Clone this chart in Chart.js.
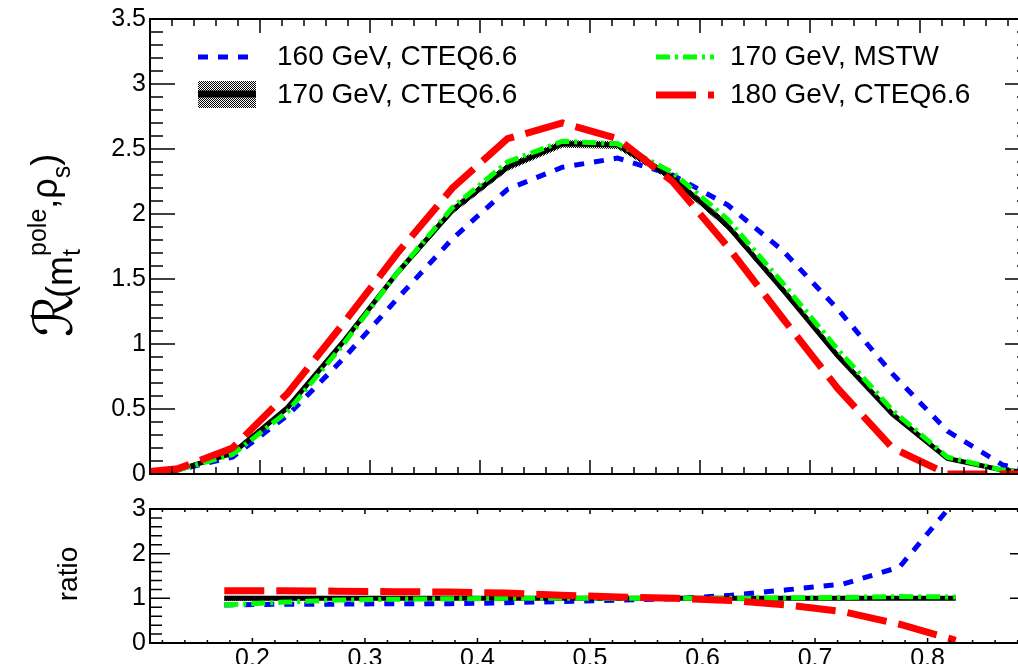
<!DOCTYPE html>
<html>
<head>
<meta charset="utf-8">
<script src="https://cdn.jsdelivr.net/npm/chart.js"></script>
<style>
    html, body { margin: 0; padding: 0; background: #fff; overflow: hidden; width: 1018px; height: 664px; }
    #top { position: absolute; left: 0; top: 0; }
    #bot { position: absolute; left: 0; top: 490px; }
</style>
</head>
<body>
<canvas id="top" width="1040" height="500"></canvas>
<canvas id="bot" width="1040" height="190"></canvas>
<script>
// upper panel: bin centres and R values
var xTop = [0.1, 0.125, 0.175, 0.225, 0.275, 0.325, 0.375, 0.425, 0.475, 0.525, 0.575, 0.625, 0.675, 0.725, 0.775, 0.825, 0.875, 0.9];
var r160 = [0.02, 0.03, 0.13, 0.45, 0.88, 1.35, 1.81, 2.19, 2.36, 2.43, 2.30, 2.07, 1.72, 1.27, 0.77, 0.33, 0.07, 0.03];
var r170 = [0.02, 0.03, 0.16, 0.51, 1.01, 1.55, 2.03, 2.36, 2.54, 2.53, 2.28, 1.91, 1.42, 0.91, 0.46, 0.12, 0.03, 0.01];
var r170err = [0.005, 0.005, 0.01, 0.015, 0.02, 0.025, 0.03, 0.03, 0.03, 0.03, 0.03, 0.03, 0.025, 0.02, 0.015, 0.01, 0.005, 0.005];
var r170mstw = [0.02, 0.03, 0.15, 0.48, 0.99, 1.55, 2.05, 2.40, 2.56, 2.54, 2.32, 1.96, 1.47, 0.96, 0.49, 0.13, 0.03, 0.01];
var r180 = [0.02, 0.04, 0.20, 0.62, 1.15, 1.70, 2.20, 2.58, 2.70, 2.58, 2.25, 1.75, 1.20, 0.66, 0.20, 0.0, 0.0, 0.0];

// lower panel: ratios to 170 GeV, CTEQ6.6
var xRat = [0.175, 0.225, 0.275, 0.325, 0.375, 0.425, 0.475, 0.525, 0.575, 0.625, 0.675, 0.725, 0.775, 0.825];
var q160 = [0.85, 0.87, 0.87, 0.88, 0.88, 0.90, 0.93, 0.96, 0.99, 1.07, 1.19, 1.32, 1.70, 3.20];
var q170 = [1, 1, 1, 1, 1, 1, 1, 1, 1, 1, 1, 1, 1, 1];
var q170err = [0.06, 0.05, 0.04, 0.04, 0.03, 0.03, 0.03, 0.03, 0.03, 0.03, 0.03, 0.03, 0.03, 0.03];
var q170mstw = [0.85, 0.91, 0.96, 0.98, 0.99, 1.0, 1.0, 1.0, 1.0, 1.0, 1.01, 1.02, 1.04, 1.03];
var q180 = [1.17, 1.17, 1.16, 1.15, 1.14, 1.12, 1.07, 1.03, 1.0, 0.95, 0.85, 0.70, 0.42, 0.06];

// tick labels
var topYTicks = [0, 0.5, 1, 1.5, 2, 2.5, 3, 3.5];
var ratYTicks = [0, 1, 2, 3];
var xTicks = [0.2, 0.3, 0.4, 0.5, 0.6, 0.7, 0.8];

var labels = ['160 GeV, CTEQ6.6', '170 GeV, CTEQ6.6', '170 GeV, MSTW', '180 GeV, CTEQ6.6'];

Chart.defaults.font.family = "'Liberation Sans', Arial, sans-serif";
Chart.defaults.color = '#000';

// checkered fill like ROOT's hatch style
function checker(canvas) {
    var c = document.createElement('canvas');
    c.width = 2; c.height = 2;
    var g = c.getContext('2d');
    g.fillStyle = '#fff'; g.fillRect(0, 0, 2, 2);
    g.fillStyle = '#000'; g.fillRect(0, 0, 1, 1); g.fillRect(1, 1, 1, 1);
    return canvas.getContext('2d').createPattern(c, 'repeat');
}

function pts(xs, ys) {
    return xs.map(function (x, i) { return { x: x, y: ys[i] }; });
}

function line(xs, ys, color, width, dash, label) {
    return {
        label: label, data: pts(xs, ys), borderColor: color, borderWidth: width,
        borderDash: dash, pointRadius: 0, tension: 0, fill: false, clip: 0
    };
}

function band(xs, ys, err, pattern) {
    var hi = ys.map(function (v, i) { return v + err[i]; });
    var lo = ys.map(function (v, i) { return v - err[i]; });
    return [
        { data: pts(xs, hi), borderColor: 'rgba(0,0,0,0)', borderWidth: 1, pointRadius: 0, fill: '+1', backgroundColor: pattern, clip: 0 },
        { data: pts(xs, lo), borderColor: 'rgba(0,0,0,0)', borderWidth: 1, pointRadius: 0, fill: false, clip: 0 }
    ];
}

// frame + inward ticks on all four sides
var rootFrame = {
    id: 'rootFrame',
    afterDatasetsDraw: function (chart, args, o) {
        var ctx = chart.ctx, a = chart.chartArea, xs = chart.scales.x, ys = chart.scales.y;
        ctx.save();
        ctx.strokeStyle = '#000';
        ctx.lineWidth = 1.5;
        ctx.beginPath();
        var n, p, len;
        for (n = Math.ceil(xs.min / o.xStep - 1e-6); n * o.xStep <= xs.max + 1e-9; n++) {
            p = xs.getPixelForValue(n * o.xStep);
            len = (n % o.xDiv === 0) ? o.xMaj : o.xMin;
            ctx.moveTo(p, a.bottom); ctx.lineTo(p, a.bottom - len);
            ctx.moveTo(p, a.top); ctx.lineTo(p, a.top + len);
        }
        for (n = 0; n * o.yStep <= ys.max + 1e-9; n++) {
            p = ys.getPixelForValue(n * o.yStep);
            len = (n % o.yDiv === 0) ? o.yMaj : o.yMin;
            ctx.moveTo(a.left, p); ctx.lineTo(a.left + len, p);
            ctx.moveTo(a.right, p); ctx.lineTo(a.right - len, p);
        }
        ctx.stroke();
        ctx.lineWidth = 2;
        ctx.strokeRect(a.left, a.top, a.right - a.left, a.bottom - a.top);
        ctx.restore();
    }
};

var topLegend = {
    id: 'topLegend',
    afterDraw: function (chart) {
        var ctx = chart.ctx, ds = chart.data.datasets;
        var slots = [
            { d: ds[3], x: 198, w: 50, y: 57, tx: 277, ty: 65 },
            { d: ds[2], x: 198, w: 58, y: 94, tx: 277, ty: 103, band: true },
            { d: ds[1], x: 656, w: 58, y: 57, tx: 730, ty: 65 },
            { d: ds[0], x: 656, w: 58, y: 95, tx: 730, ty: 103 }
        ];
        ctx.save();
        slots.forEach(function (s) {
            if (s.band) {
                ctx.fillStyle = ds[4].backgroundColor;
                ctx.fillRect(s.x, s.y - 13, s.w, 27);
            }
            ctx.beginPath();
            ctx.setLineDash(s.d.borderDash);
            ctx.lineWidth = s.band ? 7 : s.d.borderWidth;
            ctx.strokeStyle = s.d.borderColor;
            ctx.moveTo(s.x, s.y); ctx.lineTo(s.x + s.w, s.y);
            ctx.stroke();
            ctx.setLineDash([]);
            ctx.fillStyle = '#000';
            ctx.font = "28px 'Liberation Sans', Arial, sans-serif";
            ctx.textBaseline = 'alphabetic';
            ctx.fillText(s.d.label, s.tx, s.ty);
        });
        ctx.restore();
    }
};

var yTitle = {
    id: 'yTitle',
    afterDraw: function (chart, args, o) {
        var ctx = chart.ctx;
        ctx.save();
        ctx.fillStyle = '#000';
        ctx.textBaseline = 'alphabetic';
        if (o.which === 'top') {
            ctx.translate(72, 337);
            ctx.rotate(-Math.PI / 2);
            var main = "36px 'Liberation Sans', Arial, sans-serif";
            var small = "25px 'Liberation Sans', Arial, sans-serif";
            var u = 0;
            var put = function (t, f, dy) { ctx.font = f; ctx.fillText(t, u, dy); return ctx.measureText(t).width; };
            u += put('\u211B', "54px 'DejaVu Serif', 'DejaVu Sans', serif", 0) - 4;
            u += put('(m', main, 0);
            var w1 = put('pole', small, -26);
            var w2 = put('t', small, 8);
            u += Math.max(w1, w2);
            u += put(',\u03C1', main, -15);
            u += put('s', small, -2);
            put(')', main, -15);
        } else {
            ctx.translate(77, 84);
            ctx.rotate(-Math.PI / 2);
            ctx.textAlign = 'center';
            ctx.font = "28px 'Liberation Sans', Arial, sans-serif";
            ctx.fillText('ratio', 0, 0);
        }
        ctx.restore();
    }
};

function yAxis(min, max, ticks) {
    return {
        min: min, max: max,
        afterFit: function (s) { s.width = 150; },
        afterBuildTicks: function (s) { s.ticks = ticks.map(function (v) { return { value: v }; }); },
        grid: { display: false, drawTicks: false },
        border: { display: false },
        ticks: { padding: 4, font: { size: 25 }, callback: function (v) { return String(v); } }
    };
}

var topCanvas = document.getElementById('top');
var botCanvas = document.getElementById('bot');
var patTop = checker(topCanvas);
var patBot = checker(botCanvas);

new Chart(topCanvas, {
    type: 'line',
    data: {
        datasets: [
            line(xTop, r180, 'rgb(255,0,0)', 7, [40, 12], labels[3]),
            line(xTop, r170mstw, 'rgb(0,255,0)', 5, [14, 5, 3, 5], labels[2]),
            line(xTop, r170, '#000', 5, [], labels[1]),
            line(xTop, r160, 'rgb(0,0,255)', 5, [10, 10], labels[0])
        ].concat(band(xTop, r170, r170err, patTop))
    },
    options: {
        responsive: false,
        animation: false,
        layout: { padding: { left: 0, right: 10, top: 18, bottom: 26 } },
        plugins: {
            legend: { display: false },
            tooltip: { enabled: false },
            rootFrame: { xStep: 0.02, xDiv: 5, xMaj: 14, xMin: 7, yStep: 0.1, yDiv: 5, yMaj: 25, yMin: 13 },
            yTitle: { which: 'top' }
        },
        scales: {
            x: { type: 'linear', min: 0.1, max: 0.9, display: false },
            y: yAxis(0, 3.5, topYTicks)
        }
    },
    plugins: [rootFrame, topLegend, yTitle]
});

new Chart(botCanvas, {
    type: 'line',
    data: {
        datasets: [
            line(xRat, q180, 'rgb(255,0,0)', 7, [40, 12], labels[3]),
            line(xRat, q170mstw, 'rgb(0,255,0)', 5, [14, 5, 3, 5], labels[2]),
            line(xRat, q170, '#000', 5, [], labels[1]),
            line(xRat, q160, 'rgb(0,0,255)', 5, [10, 10], labels[0])
        ].concat(band(xRat, q170, q170err, patBot))
    },
    options: {
        responsive: false,
        animation: false,
        layout: { padding: { left: 0, right: 10, top: 19, bottom: 0 } },
        plugins: {
            legend: { display: false },
            tooltip: { enabled: false },
            rootFrame: { xStep: 0.02, xDiv: 5, xMaj: 5, xMin: 3, yStep: 0.2, yDiv: 5, yMaj: 20, yMin: 12 },
            yTitle: { which: 'bot' }
        },
        scales: {
            x: {
                type: 'linear', min: 0.109, max: 0.891,
                afterFit: function (s) { s.height = 37; },
                afterBuildTicks: function (s) { s.ticks = xTicks.map(function (v) { return { value: v }; }); },
                grid: { display: false, drawTicks: false },
                border: { display: false },
                ticks: { padding: 1, maxRotation: 0, autoSkip: false, font: { size: 25 }, callback: function (v) { return v.toFixed(1); } }
            },
            y: yAxis(0, 3, ratYTicks)
        }
    },
    plugins: [rootFrame, yTitle]
});
</script>
</body>
</html>
